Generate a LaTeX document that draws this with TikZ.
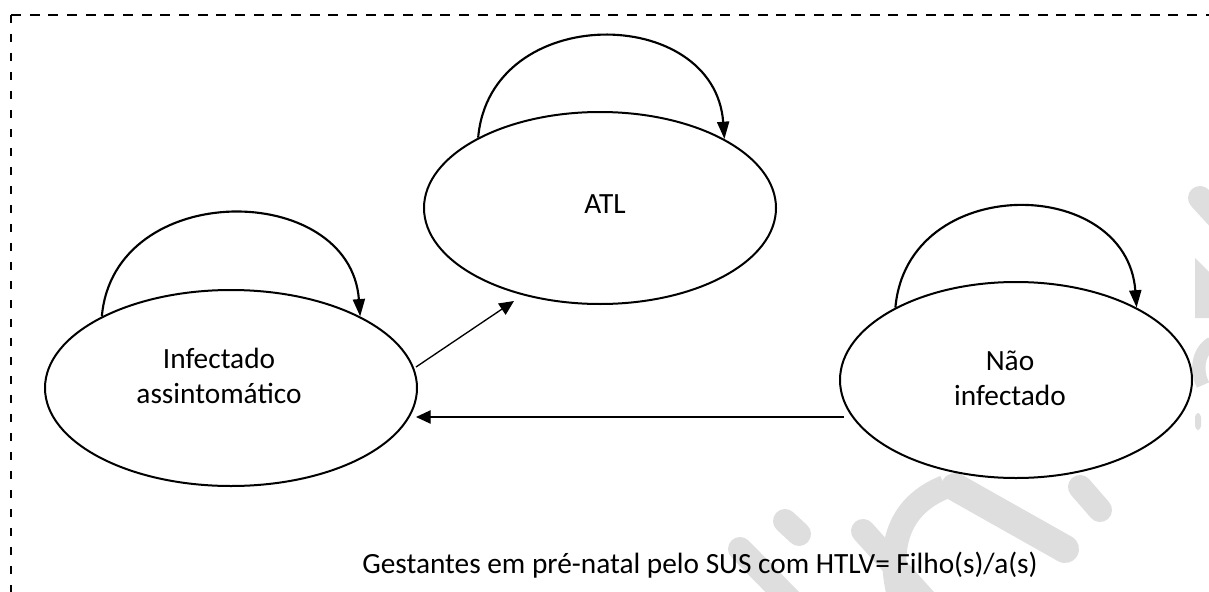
\documentclass[tikz,border=0pt]{standalone}
\usepackage{fontspec}
\setmainfont{Carlito}
\usetikzlibrary{shapes.geometric,arrows.meta,calc}
\definecolor{wm}{RGB}{222,222,222}
\begin{document}
\begin{tikzpicture}[x=0.75pt,y=-0.75pt,
  stateell/.style={ellipse, draw=black, line width=1.5pt, inner sep=0pt, fill=none},
  lbl/.style={font=\fontsize{22}{26.25}\selectfont, align=center, inner sep=0pt},
  selfarr/.style={line width=1.6pt, -{Triangle[length=13pt,width=9pt]}},
  arr/.style={line width=1pt, -{Triangle[length=11pt,width=10pt]}},
  wmstroke/.style={draw=wm, line width=18pt, line cap=round}]
\useasboundingbox (0,0) rectangle (1209,592);
\clip (0,0) rectangle (1209,592);
% faint watermark fragments
\draw[wmstroke] (740,549) -- (795,605);
\draw[wmstroke] (785,521) -- (799,534);
\draw[wmstroke] (863,531) -- (925,600);
\draw[wmstroke, line cap=butt] (900,600) .. controls (885,545) and (900,505) .. (945,487);
\draw[wmstroke, line width=21pt] (955,487) -- (1065,549);
\draw[wmstroke] (1080,487) -- (1100,510);
\draw[wmstroke] (1200,198) -- (1222,222);
\fill[wm] (1195,258) -- (1209,272) -- (1209,318) -- (1195,318) -- cycle;
\draw[draw=wm, line width=10pt] (1212,343) .. controls (1197,352) and (1196,372) .. (1203,385);
\fill[wm, rounded corners=3pt] (1195,413) rectangle (1201,430);
% dashed frame
\draw[line width=2pt, dash pattern=on 7.5pt off 6.5pt] (11,15) -- (1220,15);
\draw[line width=2pt, dash pattern=on 6pt off 8.25pt] (11,15) -- (11,610);
% states
\node[stateell, minimum width=264pt, minimum height=144pt] (atl) at (600,208) {};
\node[stateell, minimum width=279pt, minimum height=147pt] (inf) at (231,388) {};
\node[stateell, minimum width=264pt, minimum height=147pt] (nao) at (1016,380) {};
\node[lbl, anchor=base] (atlT) at (605,213) {ATL};
\node[lbl] (infT) at (219,376) {Infectado\\assintomático};
\node[lbl] (naoT) at (1010,378) {Não\\infectado};
\node[lbl, anchor=base] (cap) at (700,573) {Gestantes em pré-natal pelo SUS com HTLV= Filho(s)/a(s)};
% self loops
\draw[selfarr] (atl.150.4) .. controls +(12,-136) and +(-10,-135) .. (atl.29.6);
\draw[selfarr] (inf.151.5) .. controls +(12,-138) and +(-10,-136) .. (inf.29);
\draw[selfarr] (nao.149.5) .. controls +(12,-135) and +(-10,-133) .. (nao.31);
% transitions
\draw[arr] ($(inf.east)+(-2,-21)$) -- ($(atl.south)+(-86,-4)$);
\draw[arr] ($(nao.west)+(5,37)$) -- ($(inf.east)+(-2,29)$);
\end{tikzpicture}
\end{document}
